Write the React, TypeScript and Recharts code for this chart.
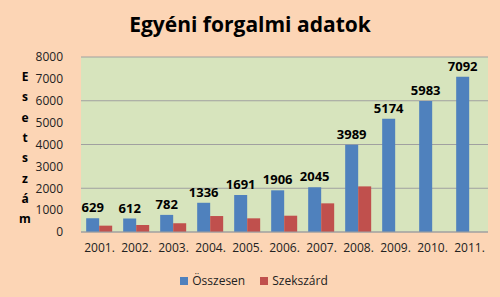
import { BarChart, Bar, XAxis, YAxis, CartesianGrid, LabelList } from 'recharts'

const years = ['2001.', '2002.', '2003.', '2004.', '2005.', '2006.', '2007.', '2008.', '2009.', '2010.', '2011.']
const osszesen = [629, 612, 782, 1336, 1691, 1906, 2045, 3989, 5174, 5983, 7092]
const szekszard = [290, 320, 400, 730, 625, 745, 1310, 2085, 0, 0, 0]
const yTicks = [0, 1000, 2000, 3000, 4000, 5000, 6000, 7000, 8000]
const yTitle = 'Esetszám'

const BLUE = '#4F81BD'
const RED = '#C0504D'
const FONT = '"Open Sans", sans-serif'

const data = years.map((y, i) => ({ year: y, ossz: osszesen[i], szek: szekszard[i] || null }))

// függőleges, betűnként tördelt tengelycím
const YTitle = () => (
  <text x={25} textAnchor="middle" fontFamily={FONT} fontWeight={700} fontSize={12} fill="#000">
    {yTitle.split('').map((ch, i) => (
      <tspan key={i} x={25} y={81 + i * 20.3}>{ch}</tspan>
    ))}
  </text>
)

export default function App() {
  return (
    <div style={{ position: 'absolute', left: 0, top: 0, width: 500, height: 297, background: '#FCD5B5', fontFamily: FONT }}>
      <style>{'body{margin:0}'}</style>
      <div style={{ position: 'absolute', top: 10, width: 500, textAlign: 'center', fontSize: 21, fontWeight: 700, color: '#000' }}>
        Egyéni forgalmi adatok
      </div>
      <BarChart
        width={500}
        height={297}
        data={data}
        margin={{ top: 57, right: 12, left: 0, bottom: 35 }}
        barCategoryGap="14%"
        barGap={0}
      >
        <CartesianGrid vertical={false} fill="#D7E4BD" stroke="#A0A0A0" />
        <XAxis
          dataKey="year"
          tickLine={false}
          axisLine={{ stroke: '#A0A0A0' }}
          tick={{ fontSize: 12, fill: '#222', fontFamily: FONT }}
          tickMargin={5}
          height={30}
        />
        <YAxis
          width={81}
          domain={[0, 8000]}
          ticks={yTicks}
          axisLine={false}
          tickLine={false}
          tick={{ fontSize: 12, fill: '#222', fontFamily: FONT }}
          tickMargin={12}
          label={<YTitle />}
        />
        <Bar dataKey="ossz" name="Összesen" fill={BLUE} isAnimationActive={false}>
          <LabelList dataKey="ossz" position="top" offset={6} fill="#000" fontSize={13} fontWeight={700} fontFamily={FONT} />
        </Bar>
        <Bar dataKey="szek" name="Szekszárd" fill={RED} isAnimationActive={false} />
      </BarChart>
      <div style={{ position: 'absolute', top: 272, left: 0, width: 500, display: 'flex', justifyContent: 'center', gap: 15, fontSize: 12, color: '#222', marginLeft: 4 }}>
        {[['Összesen', BLUE], ['Szekszárd', RED]].map(([n, c]) => (
          <span key={n} style={{ display: 'flex', alignItems: 'center' }}>
            <span style={{ width: 8, height: 8, background: c, marginRight: 4, display: 'inline-block' }} />
            {n}
          </span>
        ))}
      </div>
    </div>
  )
}
